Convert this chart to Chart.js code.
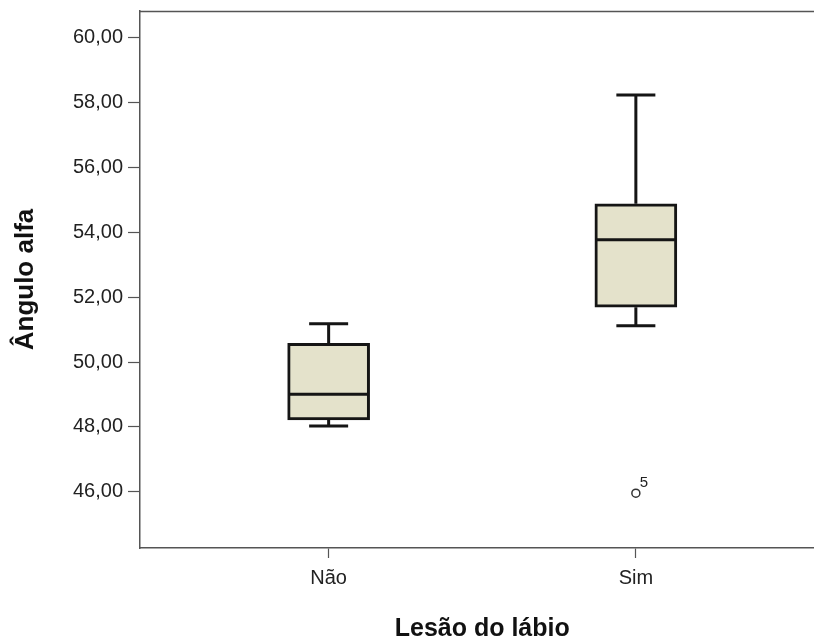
<!DOCTYPE html>
<html>
<head>
<meta charset="utf-8">
<script src="https://cdn.jsdelivr.net/npm/chart.js@4/dist/chart.umd.min.js"></script>
<style>
html, body { margin: 0; padding: 0; overflow: hidden; background: #ffffff; }
#wrap { position: absolute; left: 0; top: 0; width: 830px; height: 640px; }
</style>
</head>
<body>
<div id="wrap"><canvas id="c" width="830" height="640"></canvas></div>
<script>
// ---- data ----
const categories = ['Não', 'Sim'];
const whiskerLow = [48.03, 51.12];
const q1 = [48.22, 51.69];
const median = [49.01, 53.77];
const q3 = [50.58, 54.88];
const whiskerHigh = [51.18, 58.23];
const outlierCategory = [1];
const outlierValue = [45.96];
const outlierLabel = ['5'];
const yTickValues = [46, 48, 50, 52, 54, 56, 58, 60];
const xTitle = 'Lesão do lábio';
const yTitle = 'Ângulo alfa';

const FONT = '"Liberation Sans", Arial, Helvetica, sans-serif';
const LINE = '#151515';

const boxData = categories.map((c, i) => ({ x: i, y: [q1[i], q3[i]] }));
const outlierData = outlierValue.map((v, k) => ({ x: outlierCategory[k], y: v }));

const boxPlugin = {
  id: 'boxParts',
  afterDatasetsDraw(chart) {
    const ctx = chart.ctx;
    const xs = chart.scales.x, ys = chart.scales.y;
    const area = chart.chartArea;
    ctx.save();
    // frame top line
    ctx.strokeStyle = '#555';
    ctx.lineWidth = 1.5;
    ctx.beginPath();
    ctx.moveTo(area.left, area.top + 0.5);
    ctx.lineTo(area.right, area.top + 0.5);
    ctx.stroke();

    ctx.strokeStyle = LINE;
    ctx.lineWidth = 3;
    ctx.lineCap = 'butt';
    const capHalf = 19.5, boxHalf = 39.5;
    categories.forEach((c, i) => {
      const x = xs.getPixelForValue(i);
      const yLo = ys.getPixelForValue(whiskerLow[i]);
      const yQ1 = ys.getPixelForValue(q1[i]);
      const yQ3 = ys.getPixelForValue(q3[i]);
      const yHi = ys.getPixelForValue(whiskerHigh[i]);
      const yMed = ys.getPixelForValue(median[i]);
      ctx.beginPath();
      ctx.moveTo(x, yQ1); ctx.lineTo(x, yLo);
      ctx.moveTo(x - capHalf, yLo); ctx.lineTo(x + capHalf, yLo);
      ctx.moveTo(x, yQ3); ctx.lineTo(x, yHi);
      ctx.moveTo(x - capHalf, yHi); ctx.lineTo(x + capHalf, yHi);
      ctx.moveTo(x - boxHalf, yMed); ctx.lineTo(x + boxHalf, yMed);
      ctx.stroke();
    });
    // outlier labels
    ctx.fillStyle = '#222';
    ctx.font = '15px ' + FONT;
    ctx.textAlign = 'left';
    ctx.textBaseline = 'alphabetic';
    outlierValue.forEach((v, k) => {
      const x = xs.getPixelForValue(outlierCategory[k]);
      const y = ys.getPixelForValue(v);
      ctx.fillText(outlierLabel[k], x + 4, y - 6);
    });
    ctx.restore();
  }
};

new Chart(document.getElementById('c'), {
  type: 'bar',
  data: {
    datasets: [
      {
        type: 'bar',
        data: boxData,
        backgroundColor: '#e4e2cb',
        borderColor: LINE,
        borderWidth: 3,
        borderSkipped: false,
        barThickness: 82,
        order: 2
      },
      {
        type: 'scatter',
        data: outlierData,
        pointStyle: 'circle',
        pointRadius: 4,
        pointBackgroundColor: '#ffffff',
        pointBorderColor: '#333',
        pointBorderWidth: 1.5,
        order: 1
      }
    ]
  },
  options: {
    responsive: false,
    animation: false,
    devicePixelRatio: 1,
    layout: { padding: { left: 0, top: 11, right: 4, bottom: 0 } },
    plugins: { legend: { display: false }, tooltip: { enabled: false } },
    scales: {
      x: {
        type: 'linear',
        offset: false,
        min: -0.614,
        max: 1.614,
        grid: { display: true, offset: false, drawOnChartArea: false, drawTicks: true, tickLength: 10, tickColor: '#555', tickWidth: 1.2 },
        border: { display: true, color: '#555', width: 1.5 },
        afterBuildTicks(scale) { scale.ticks = categories.map((c, i) => ({ value: i })); },
        afterFit(scale) { scale.height = 92; scale.paddingLeft = 0; scale.paddingRight = 0; },
        ticks: {
          autoSkip: false,
          maxRotation: 0,
          padding: 8,
          color: '#222',
          font: { family: FONT, size: 20 },
          callback: (v) => categories[v]
        },
        title: {
          display: true,
          text: xTitle,
          color: '#111',
          font: { family: FONT, size: 25, weight: 'bold', lineHeight: 0.85 },
          padding: { top: 0, bottom: 0 }
        }
      },
      y: {
        type: 'linear',
        min: 44.27,
        max: 60.82,
        grid: { display: true, offset: false, drawOnChartArea: false, drawTicks: true, tickLength: 12, tickColor: '#555', tickWidth: 1.2 },
        border: { display: true, color: '#555', width: 1.5 },
        afterBuildTicks(scale) { scale.ticks = yTickValues.map(v => ({ value: v })); },
        afterFit(scale) { scale.width = 140; scale.paddingTop = 0; scale.paddingBottom = 0; },
        ticks: {
          padding: 5,
          color: '#222',
          font: { family: FONT, size: 20 },
          callback: (v) => v.toFixed(2).replace('.', ',')
        },
        title: {
          display: true,
          text: yTitle,
          color: '#111',
          font: { family: FONT, size: 26, weight: 'bold', lineHeight: 1 },
          padding: { top: 13, bottom: 0 }
        }
      }
    }
  },
  plugins: [boxPlugin]
});
</script>
</body>
</html>
